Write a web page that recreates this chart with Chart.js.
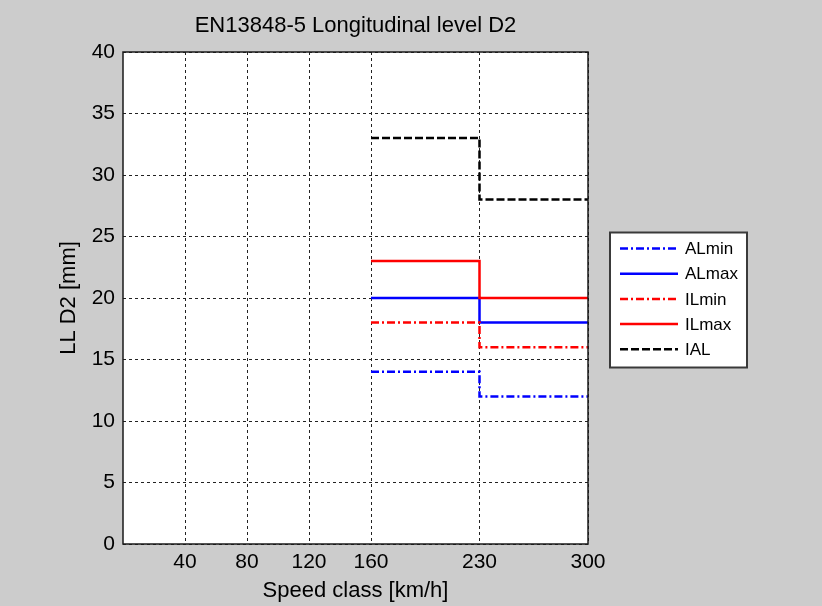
<!DOCTYPE html>
<html>
<head>
<meta charset="utf-8">
<script src="https://cdn.jsdelivr.net/npm/chart.js@4.4.1/dist/chart.umd.min.js"></script>
<style>
	body { margin: 0; background: #cccccc; }
	canvas { display: block; }
</style>
</head>
<body>
<canvas id="d2_chart" width="822" height="606"></canvas>
<script>
// speed class break points and the limit values at each one
const speeds = [160, 230, 300];
const alMin = [14, 12, 12];
const alMax = [20, 18, 18];
const ilMin = [18, 16, 16];
const ilMax = [23, 20, 20];
const ial = [33, 28, 28];

const xTicks = [40, 80, 120, 160, 230, 300];
const yTicks = [0, 5, 10, 15, 20, 25, 30, 35, 40];

const DASH_DOT = [8, 3, 2, 3];
const DASHED = [8, 3];

function toPoints(vals) {
	return speeds.map((s, i) => ({x: s, y: vals[i]}));
}

function makeSet(label, vals, color, dash, order) {
	return {
		label: label,
		data: toPoints(vals),
		stepped: 'before',
		borderColor: color,
		backgroundColor: color,
		borderWidth: 2.5,
		borderDash: dash,
		pointRadius: 0,
		pointHoverRadius: 0,
		order: order,
	};
}

// grey figure, white axes, boxed like the original
const frameBg = {
	id: 'frameBg',
	beforeDraw(chart) {
		const {ctx, chartArea: a} = chart;
		ctx.save();
		ctx.fillStyle = '#cccccc';
		ctx.fillRect(0, 0, chart.width, chart.height);
		ctx.fillStyle = '#ffffff';
		ctx.fillRect(a.left, a.top, a.right - a.left, a.bottom - a.top);
		ctx.restore();
	},
	afterDraw(chart) {
		const {ctx, chartArea: a} = chart;
		ctx.save();
		ctx.strokeStyle = '#1a1a1a';
		ctx.lineWidth = 1.5;
		ctx.strokeRect(a.left, a.top, a.right - a.left, a.bottom - a.top);
		ctx.restore();
	}
};

// legend box to the right of the axes
const boxLegend = {
	id: 'boxLegend',
	afterDraw(chart) {
		const {ctx, chartArea: a} = chart;
		const sets = chart.data.datasets;
		const left = a.right + 22;
		const w = 137;
		const rowH = 25.2;
		const h = 135;
		const top = (a.top + a.bottom) / 2 - h / 2 + 2;
		ctx.save();
		ctx.fillStyle = '#ffffff';
		ctx.fillRect(left, top, w, h);
		ctx.strokeStyle = '#3a3a3a';
		ctx.lineWidth = 2;
		ctx.strokeRect(left, top, w, h);
		ctx.font = '17px "Liberation Sans", Arial, sans-serif';
		ctx.textBaseline = 'middle';
		ctx.fillStyle = '#000000';
		sets.forEach((ds, i) => {
			let y = top + 16 + i * rowH;
			ctx.beginPath();
			ctx.setLineDash(ds.borderDash || []);
			ctx.strokeStyle = ds.borderColor;
			ctx.lineWidth = 2.5;
			ctx.moveTo(left + 10, y);
			ctx.lineTo(left + 68, y);
			ctx.stroke();
			ctx.setLineDash([]);
			ctx.fillText(ds.label, left + 75, y + 1);
		});
		ctx.restore();
	}
};

Chart.defaults.font.family = '"Liberation Sans", Arial, sans-serif';
Chart.defaults.color = '#000000';

let chartData = {
	datasets: [
		makeSet('ALmin', alMin, '#0000ff', DASH_DOT, 5),
		makeSet('ALmax', alMax, '#0000ff', [], 4),
		makeSet('ILmin', ilMin, '#ff0000', DASH_DOT, 3),
		makeSet('ILmax', ilMax, '#ff0000', [], 2),
		makeSet('IAL', ial, '#000000', DASHED, 1),
	]
};

let chartOptions = {
	responsive: false,
	animation: false,
	layout: {
		padding: {left: 0, right: 234, top: 0, bottom: 0}
	},
	scales: {
		x: {
			type: 'linear',
			min: 0,
			max: 300,
			afterBuildTicks: (scale) => {
				scale.ticks = xTicks.map(v => ({value: v}));
			},
			afterFit: (scale) => {
				scale.height = 62;
			},
			border: {display: false, dash: [3, 3]},
			grid: {
				color: '#222222',
				lineWidth: 1,
				drawTicks: false,
			},
			ticks: {
				padding: 6,
				font: {size: 21},
				color: '#000000',
			},
			title: {
				display: true,
				text: 'Speed class [km/h]',
				font: {size: 22},
				color: '#000000',
				padding: {top: 0, bottom: 2},
			},
		},
		y: {
			type: 'linear',
			min: 0,
			max: 40,
			afterBuildTicks: (scale) => {
				scale.ticks = yTicks.map(v => ({value: v}));
			},
			afterFit: (scale) => {
				scale.width = 123;
			},
			border: {display: false, dash: [3, 3]},
			grid: {
				color: '#222222',
				lineWidth: 1,
				drawTicks: false,
			},
			ticks: {
				padding: 8,
				font: {size: 21},
				color: '#000000',
			},
			title: {
				display: true,
				text: 'LL D2 [mm]',
				font: {size: 22},
				color: '#000000',
				padding: {top: 56, bottom: 0},
			},
		},
	},
	plugins: {
		legend: {display: false},
		tooltip: {enabled: false},
		title: {
			display: true,
			fullSize: false,
			text: 'EN13848-5 Longitudinal level D2',
			font: {size: 22, weight: 'normal'},
			color: '#000000',
			padding: {top: 13, bottom: 12.6},
		},
	},
};

const ctx = document.getElementById('d2_chart');
let d2Chart = new Chart(ctx, {
	type: 'line',
	data: chartData,
	options: chartOptions,
	plugins: [frameBg, boxLegend],
});
</script>
</body>
</html>
